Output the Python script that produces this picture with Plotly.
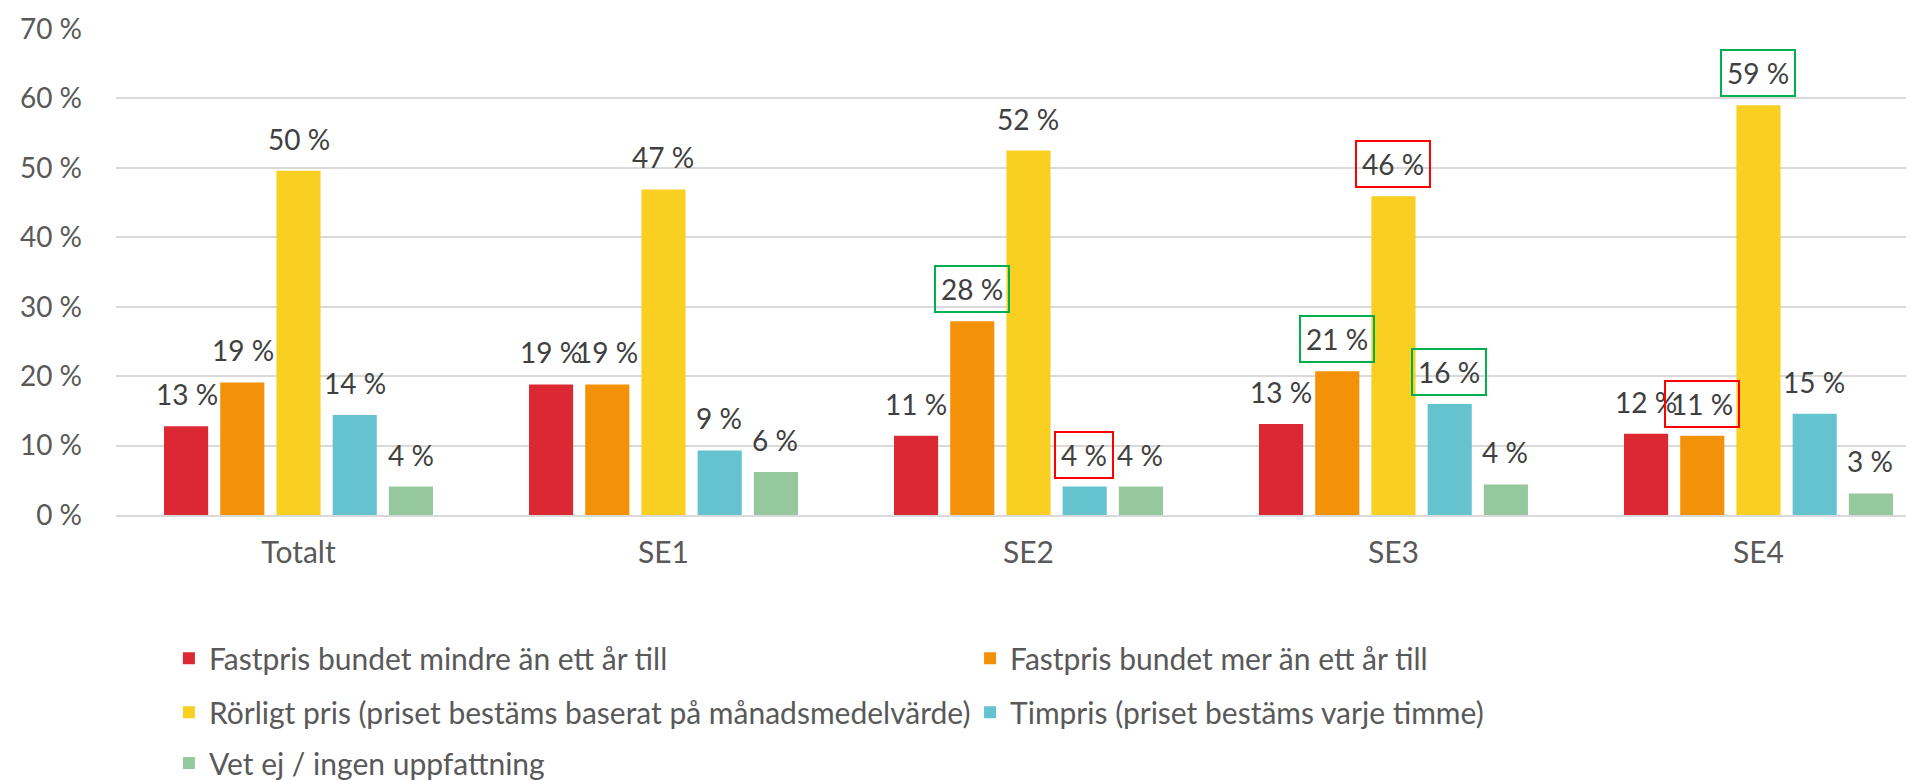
import plotly.graph_objects as go

# data
categories = ["Totalt", "SE1", "SE2", "SE3", "SE4"]
series_names = [
    "Fastpris bundet mindre än ett år till",
    "Fastpris bundet mer än ett år till",
    "Rörligt pris (priset bestäms baserat på månadsmedelvärde)",
    "Timpris (priset bestäms varje timme)",
    "Vet ej / ingen uppfattning",
]
fast_kort = [12.8, 18.8, 11.4, 13.1, 11.7]
fast_lang = [19.1, 18.8, 27.9, 20.7, 11.4]
rorligt = [49.6, 46.9, 52.5, 45.9, 59.0]
timpris = [14.4, 9.3, 4.1, 16.0, 14.6]
vet_ej = [4.1, 6.2, 4.1, 4.4, 3.1]
y_ticks = [0, 10, 20, 30, 40, 50, 60, 70]

# highlighted labels: (series index, category) -> box colour
highlights = {
    (1, "SE2"): "#00B050",
    (3, "SE2"): "#FF0000",
    (1, "SE3"): "#00B050",
    (2, "SE3"): "#FF0000",
    (3, "SE3"): "#00B050",
    (1, "SE4"): "#FF0000",
    (2, "SE4"): "#00B050",
}

colors = ["#DC2832", "#F39208", "#F9CF22", "#64C3CF", "#95C99D"]
all_values = [fast_kort, fast_lang, rorligt, timpris, vet_ej]

FONT = "Lato, Open Sans, sans-serif"
NUM_FS = 28   # data labels and y ticks
TXT_FS = 30   # category labels and legend
BAR_PITCH = 56  # px between neighbouring bars within a group

# legend placement (paper coords): one legend per entry, two columns
legend_pos = [(0.0293, -0.295), (0.4729, -0.295), (0.0293, -0.406), (0.4729, -0.406), (0.0293, -0.511)]

fig = go.Figure()
for i, (name, vals) in enumerate(zip(series_names, all_values)):
    lname = "legend" if i == 0 else f"legend{i + 1}"
    fig.add_trace(
        go.Bar(
            x=categories,
            y=vals,
            name=name,
            marker=dict(color=colors[i], line=dict(width=0)),
            legend=lname,
            showlegend=True,
            hovertemplate="%{x}: %{y:.0f} %<extra></extra>",
        )
    )

annotations = []
for i, vals in enumerate(all_values):
    for cat, v in zip(categories, vals):
        box = highlights.get((i, cat))
        annotations.append(
            dict(
                x=cat,
                y=v,
                xref="x",
                yref="y",
                text=f"{round(v)} %",
                showarrow=False,
                xshift=(i - 2) * BAR_PITCH,
                yshift=32,
                yanchor="middle",
                font=dict(family=FONT, size=NUM_FS, color="#404040"),
                bordercolor=box if box else "rgba(0,0,0,0)",
                borderwidth=2 if box else 0,
                borderpad=5,
            )
        )

legends = {}
for i, (lx, ly) in enumerate(legend_pos):
    key = "legend" if i == 0 else f"legend{i + 1}"
    legends[key] = dict(
        x=lx,
        y=ly,
        xanchor="left",
        yanchor="middle",
        orientation="h",
        font=dict(family=FONT, size=TXT_FS, color="#595959"),
        bgcolor="rgba(0,0,0,0)",
        visible=True,
    )

fig.update_layout(
    width=1914,
    height=781,
    margin=dict(l=108, r=0, t=21, b=265),
    paper_bgcolor="white",
    plot_bgcolor="white",
    showlegend=True,
    barmode="group",
    bargap=0.23,
    bargroupgap=0.215,
    font=dict(family=FONT, size=TXT_FS, color="#595959"),
    annotations=annotations,
    xaxis=dict(
        range=[-0.5, 4.448],
        showgrid=False,
        showline=True,
        linecolor="#D9D9D9",
        linewidth=2,
        ticks="",
        tickfont=dict(family=FONT, size=TXT_FS, color="#595959"),
        ticklabelstandoff=10,
    ),
    yaxis=dict(
        range=[0, 70],
        tickvals=y_ticks,
        ticktext=[f"{t} %" for t in y_ticks],
        showgrid=True,
        gridcolor="#D9D9D9",
        gridwidth=2,
        zeroline=False,
        showline=False,
        ticks="",
        tickfont=dict(family=FONT, size=NUM_FS, color="#595959"),
        ticklabelstandoff=33,
    ),
    **legends,
)

fig.write_html("out.html")
